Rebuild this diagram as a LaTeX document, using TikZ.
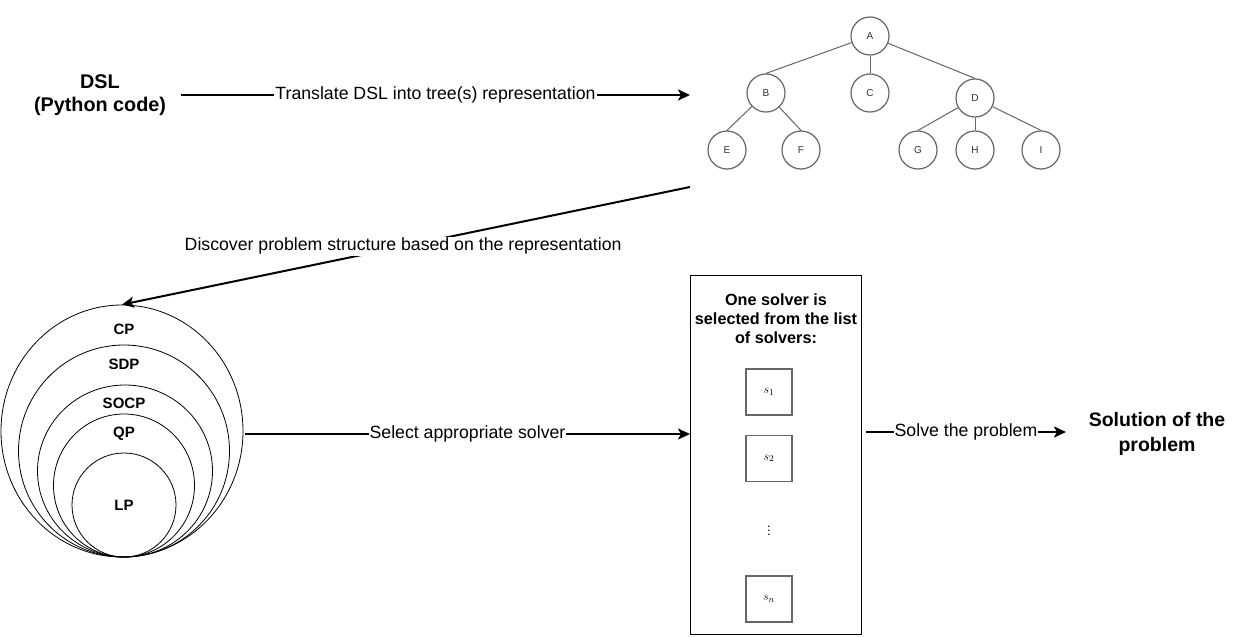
\documentclass[tikz,border=0pt]{standalone}
\usepackage[no-math]{fontspec}
\setmainfont{Liberation Sans}
\usetikzlibrary{arrows.meta,shapes.geometric}
\definecolor{gray6}{HTML}{666666}
\definecolor{gray3}{HTML}{333333}
\begin{document}
\begin{tikzpicture}[x=1pt,y=-1pt,
 arr/.style={line width=2pt,-{Stealth[length=12pt,width=11pt,inset=3pt]}},
 lbl/.style={fill=white,inner sep=1pt,font=\fontsize{17.7}{20}\selectfont},
 tn/.style={circle,draw=gray6,line width=1.2pt,minimum size=38pt,inner sep=0pt,font=\fontsize{10}{12}\selectfont,text=gray3},
 te/.style={draw=gray6,line width=1pt},
 sq/.style={draw=gray6,line width=1.3pt,minimum size=46pt,inner sep=0pt,font=\fontsize{13}{15}\selectfont},
 ring/.style={ellipse,draw,line width=0.8pt,inner sep=0pt},
 rl/.style={font=\bfseries\fontsize{15}{18}\selectfont}
]
\useasboundingbox (0,0) rectangle (1248,637);
\fill[white] (0,0) rectangle (1248,637);

% DSL
\node[align=center,font=\bfseries\fontsize{19.8}{23}\selectfont] (DSL) at (100,95) {DSL\\(Python code)};

% Tree
\node[tn] (A) at (870,36) {A};
\node[tn] (B) at (766,93) {B};
\node[tn] (C) at (870,93) {C};
\node[tn] (D) at (975,98) {D};
\node[tn] (E) at (727,150) {E};
\node[tn] (F) at (801,150) {F};
\node[tn] (G) at (918,150) {G};
\node[tn] (H) at (975,150) {H};
\node[tn] (I) at (1041,150) {I};
\draw[te] (A) -- (B.north);
\draw[te] (A) -- (C);
\draw[te] (A) -- (D.north);
\draw[te] (B) -- (E.north);
\draw[te] (B) -- (F.north);
\draw[te] (D) -- (G.north);
\draw[te] (D) -- (H);
\draw[te] (D) -- (I.north);

% nested problem classes
\node[ring,minimum width=242pt,minimum height=252pt] (CP) at (122,431) {};
\node[ring,minimum width=211pt,minimum height=212pt] (SDP) at (124,451) {};
\node[ring,minimum width=175pt,minimum height=172pt] (SOCP) at (125,471) {};
\node[ring,minimum width=141pt,minimum height=143pt] (QP) at (124,485.5) {};
\node[ring,minimum width=104pt,minimum height=104pt] (LP) at (124,505) {};
\node[rl] (CPt) at (124,329) {CP};
\node[rl] (SDPt) at (124,364) {SDP};
\node[rl] (SOCPt) at (124,403) {SOCP};
\node[rl] (QPt) at (124,434) {QP};
\node[rl] (LPt) at (124,505) {LP};

% solver box
\node[draw,line width=1pt,minimum width=171pt,minimum height=359pt,inner sep=0pt] (box) at (775.5,454.5) {};
\node[align=center,font=\bfseries\fontsize{16.2}{19}\selectfont] (boxt) at (776,319) {One solver is\\selected from the list\\of solvers:};
\node[sq] (s1) at (769,392) {$s_1$};
\node[sq] (s2) at (769,458.5) {$s_2$};
\node[font=\fontsize{13}{15}\selectfont,inner sep=0pt] (dots) at (769,528) {$\vdots$};
\node[sq] (sn) at (769,599) {$s_n$};

% solution
\node[align=center,font=\bfseries\fontsize{19.5}{25}\selectfont] (sol) at (1157,434) {Solution of the\\problem};

% connector end points
\coordinate (dslR) at (181,95);
\coordinate (treeW) at (690,95);
\coordinate (treeSW) at (690,187);
\coordinate (cpE) at (245,434);
\coordinate (boxW) at (690,434);
\coordinate (boxE) at (866,432);
\coordinate (solW) at (1066,432);

\draw[arr] (dslR) -- node[lbl] {Translate DSL into tree(s) representation} (treeW);
\draw[arr] (treeSW) -- node[lbl,pos=0.505] {Discover problem structure based on the representation} (CP.north);
\draw[arr] (cpE) -- node[lbl] {Select appropriate solver} (boxW);
\draw[arr] (boxE) -- node[lbl] {Solve the problem} (solW);
\end{tikzpicture}
\end{document}
